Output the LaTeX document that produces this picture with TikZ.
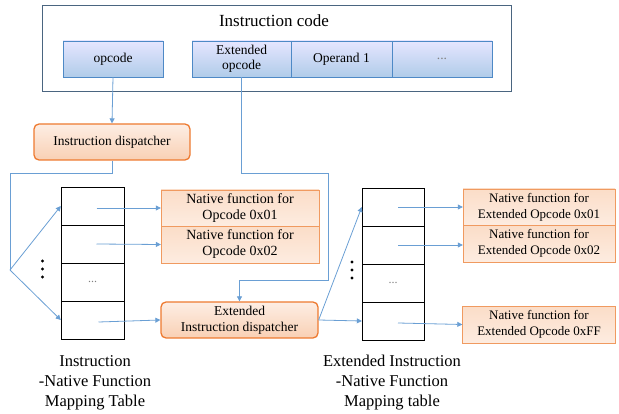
\documentclass[tikz,border=0pt]{standalone}
\usepackage{fontspec}
\setmainfont{Liberation Serif}[Ligatures=TeX]
\usetikzlibrary{arrows.meta,positioning,calc}

\definecolor{linkblue}{HTML}{6A9FD4}
\definecolor{cellline}{HTML}{4E89C6}
\definecolor{frameline}{HTML}{4A6580}
\definecolor{orline}{HTML}{F09A60}
\definecolor{ordisp}{HTML}{EE7A30}

\begin{document}
\begin{tikzpicture}[x=1pt,y=-1pt,
    every node/.style={font=\rmfamily},
    cell/.style={draw=cellline, top color=blue!10!white, bottom color={rgb,255:red,176;green,204;blue,233},
      minimum width=100, minimum height=36, inner sep=1pt, align=center,
      font=\rmfamily\fontsize{13.5}{15.5}\selectfont},
    dispbox/.style={draw=ordisp, line width=1.3pt, rounded corners=5pt,
      top color={rgb,255:red,253;green,238;blue,228}, bottom color={rgb,255:red,249;green,208;blue,180},
      minimum height=36, inner sep=1pt, align=center, font=\rmfamily\fontsize{13.5}{16}\selectfont},
    natfn/.style={draw=orline, top color={rgb,255:red,251;green,221;blue,200}, bottom color={rgb,255:red,253;green,236;blue,224},
      minimum height=36.5, inner sep=1pt, align=center, font=\rmfamily\fontsize{14}{16}\selectfont},
    extfn/.style={natfn, minimum width=152, font=\rmfamily\fontsize{13}{16}\selectfont},
    row/.style={draw=black, fill=white, minimum width=63, minimum height=38, inner sep=0pt},
    link/.style={draw=linkblue, line width=0.8pt},
    arr/.style={link, -{Triangle[width=5pt,length=5pt]}},
    lbl/.style={align=center, font=\rmfamily\fontsize{16.5}{20}\selectfont},
  ]
  \useasboundingbox (0,0) rectangle (619,414);

  % instruction code
  \node[draw=frameline, minimum width=469, minimum height=86] (code) at (276.5,48) {};
  \node[font=\rmfamily\fontsize{17}{19}\selectfont] (codettl) at (274,21) {Instruction code};
  \node[cell] (opc) at (113,59) {opcode};
  \node[cell, minimum width=99] (extop) at (241.5,59) {Extended\\opcode};
  \node[cell, minimum width=101] (opnd) at (341.5,59) {Operand 1};
  \node[cell, text=gray] (more) at (442,59) {...};

  % dispatchers
  \node[dispbox, minimum width=156] (disp) at (112,142) {Instruction dispatcher};
  \node[dispbox, minimum width=157] (edisp) at (239.5,320) {Extended\\Instruction dispatcher};

  % left mapping table
  \foreach \i/\y in {1/206,2/244,3/282,4/320}
    \node[row] (ta\i) at (92.5,\y) {};
  \node[text=gray, font=\fontsize{12}{12}\selectfont] (tadots) at (ta3) {...};
  \foreach \y in {261,269,277}
    \fill (42.5,\y) circle (1.6);
  \node[lbl] (tallbl) at (95,383) {Instruction\\-Native Function\\Mapping Table};

  \node[natfn, minimum width=158] (nf1) at (240,208) {Native function for\\Opcode 0x01};
  \node[natfn, minimum width=158] (nf2) at (240,244.5) {Native function for\\Opcode 0x02};

  % right mapping table
  \foreach \i/\y in {1/207,2/245,3/283,4/321}
    \node[row, minimum width=62] (tb\i) at (393,\y) {};
  \node[text=gray, font=\fontsize{12}{12}\selectfont] (tbdots) at (tb3) {...};
  \foreach \y in {262,270,278}
    \fill (352,\y) circle (1.6);
  \node[lbl] (tbllbl) at (392,383) {Extended Instruction\\-Native Function\\Mapping table};

  \node[extfn] (ef1) at (539,207) {Native function for\\Extended Opcode 0x01};
  \node[extfn] (ef2) at (539,243.5) {Native function for\\Extended Opcode 0x02};
  \node[extfn, minimum width=153] (ef3) at (539,324.5) {Native function for\\Extended Opcode 0xFF};

  % connectors
  \coordinate (fork) at (10,270);
  \coordinate (ebend) at (328,173);
  \draw[arr] (opc.south) -- (disp.north);
  \draw[link] (disp.south) |- (10,173) -- (fork);
  \draw[arr] (fork) -- (ta1.west);
  \draw[arr] (fork) -- (ta4.west);
  \draw[arr] ($(ta1.center)+(4,2)$) -- (nf1.west);
  \draw[arr] ($(ta2.center)+(4,0)$) -- (nf2.west);
  \draw[arr] ($(ta4.center)+(6,2)$) -- (edisp.west);
  \draw[arr] (extop.south) |- (ebend) -- ++(0,107) -| (edisp.north);
  \draw[arr] (edisp.east) -- (tb1.west);
  \draw[arr] (edisp.east) -- (tb4.west);
  \draw[arr] ($(tb1.center)+(5,0)$) -- (tb1.center -| ef1.west);
  \draw[arr] ($(tb2.center)+(5,0)$) -- (tb2.center -| ef2.west);
  \draw[arr] ($(tb4.center)+(5,2)$) -- (ef3.west);
\end{tikzpicture}
\end{document}
